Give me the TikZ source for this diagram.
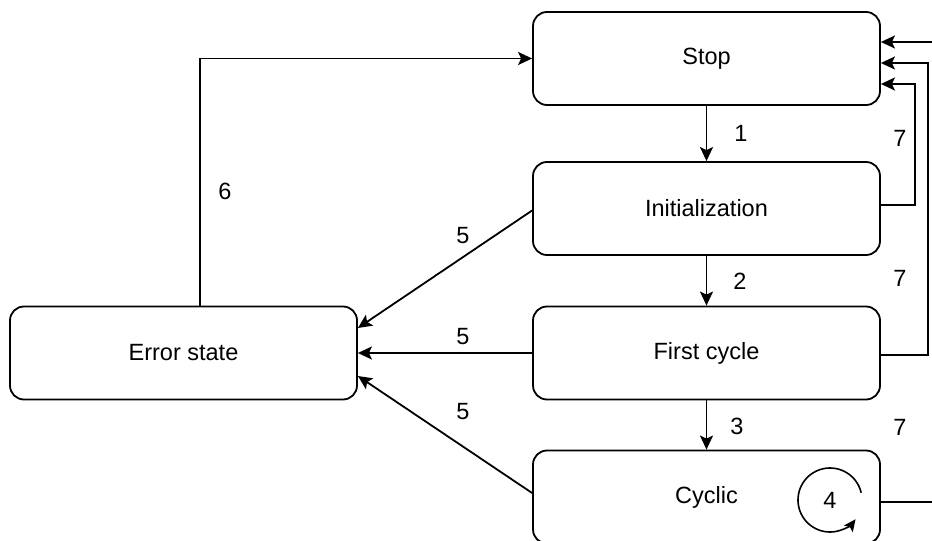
\documentclass[tikz,border=0pt]{standalone}
\usepackage{fontspec}
\setmainfont{Liberation Sans}
\usetikzlibrary{arrows.meta}
\begin{document}
\begin{tikzpicture}[x=1bp,y=1bp,
  every node/.style={font=\fontsize{23.5bp}{28bp}\selectfont},
  state/.style={draw, line width=1.8bp, rounded corners=14bp, minimum width=347bp, minimum height=93bp, inner sep=0pt},
  conn/.style={line width=1.8bp, -{Stealth[length=14bp,width=13bp,inset=3bp]}},
  lbl/.style={inner sep=0pt}]
\useasboundingbox (0,0) rectangle (932,-541);
\node[state] (stop) at (706.5,-58.5) {Stop};
\node[state] (init) at (706.5,-208.5) {Initialization};
\node[state] (first) at (706.5,-353) {First cycle};
\node[state] (cyclic) at (706.5,-497) {};
\node[lbl] (cyctext) at (706.5,-497) {Cyclic};
\node[state] (error) at (183.5,-353) {Error state};
% vertical transitions
\draw[conn] (stop) -- (init);
\draw[conn] (init) -- (first);
\draw[conn] (first) -- (cyclic);
\node[lbl] (l1) at (741,-133) {1};
\node[lbl] (l2) at (740,-281) {2};
\node[lbl] (l3) at (737,-426) {3};
% to error
\draw[conn] ([yshift=-2bp]init.west) -- ([yshift=25bp]error.east);
\draw[conn] (first.west) -- (error.east);
\draw[conn] ([yshift=4bp]cyclic.west) -- ([yshift=-23bp]error.east);
\node[lbl] (l5a) at (463,-236) {5};
\node[lbl] (l5b) at (463,-337) {5};
\node[lbl] (l5c) at (463,-412) {5};
% error to stop
\draw[conn] ([xshift=16.5bp]error.north) |- (stop.west);
\node[lbl] (l6) at (225,-191) {6};
% loops back to stop
\coordinate (ia) at (915,-205);
\coordinate (fa) at (928,-355);
\coordinate (ca) at (945,-502);
\draw[conn] ([yshift=3.5bp]init.east) -- (ia) |- ([yshift=-25.5bp]stop.east);
\draw[conn] ([yshift=-2bp]first.east) -- (fa) |- ([yshift=-4.5bp]stop.east);
\draw[conn] ([yshift=-5bp]cyclic.east) -- (ca) |- ([yshift=16.5bp]stop.east);
\node[lbl] (l7a) at (900,-138) {7};
\node[lbl] (l7b) at (900,-278) {7};
\node[lbl] (l7c) at (900,-427) {7};
% self loop 4
\node[lbl] (l4) at (830,-500) {4};
\draw[line width=1.6bp, -{Stealth[length=12bp,width=11bp,inset=2.5bp]}] (l4) ++(13:32bp) arc[start angle=13, end angle=323, radius=32bp];
\end{tikzpicture}
\end{document}
